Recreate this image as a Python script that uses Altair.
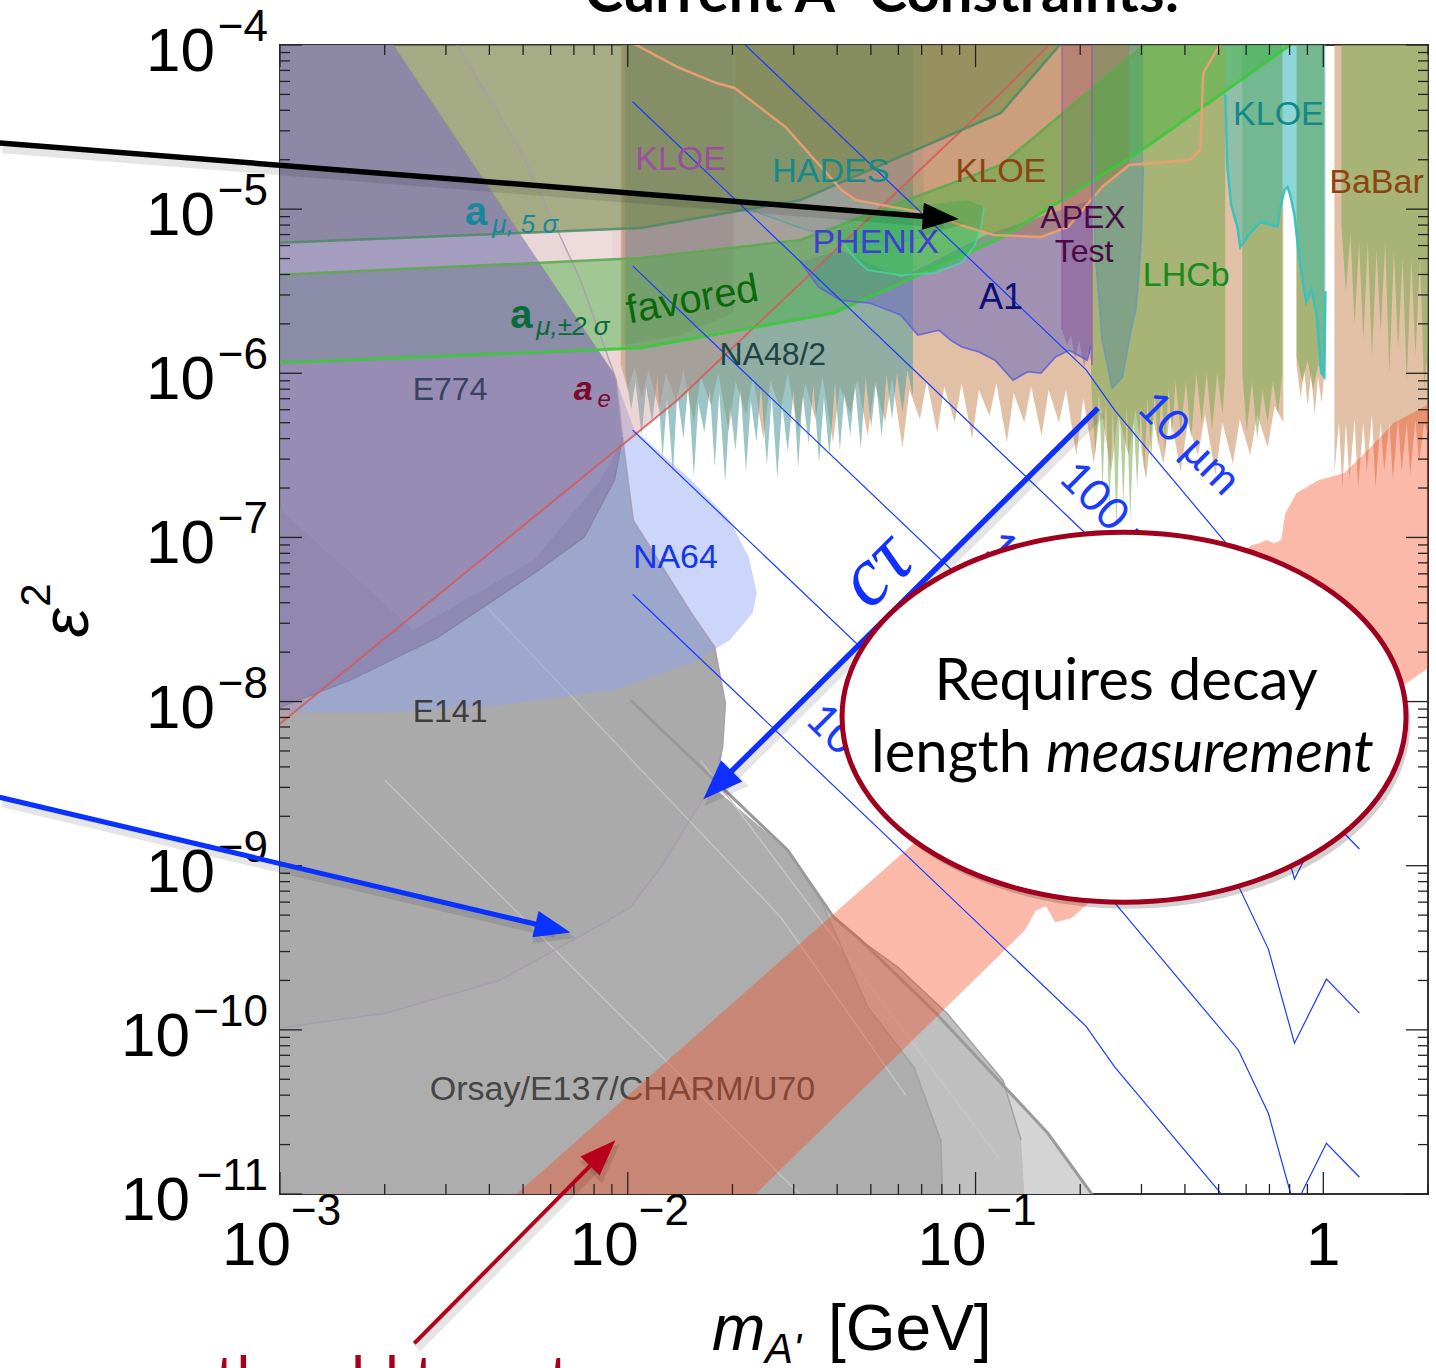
import altair as alt
import numpy as np
import pandas as pd

# ---------------------------------------------------------------- frame
W, H = 1148, 1149
M_RANGE = [1e-3, 2.0]          # m_A' [GeV]
EPS2_RANGE = [1e-11, 1e-4]     # epsilon^2

SANS = "Liberation Sans, Arial, Helvetica, sans-serif"
GILL = "Lato, Open Sans, sans-serif"
SERIF = "Liberation Serif, Times New Roman, serif"
INK = "#222222"

# ------------------------------------------- regions: (log10 m, log10 eps^2)
BEAMDUMP_TOP = [(-3.02, -6.791), (-2.617, -7.565), (-2.269, -7.138), (-2.079, -6.651),
                (-2.015, -6.407), (-1.984, -6.895), (-1.817, -7.461), (-1.750, -7.668),
                (-1.719, -8.010), (-1.727, -8.278), (-1.745, -8.540), (-1.540, -8.906)]
BEAMDUMP_OUTER = [(-1.408, -9.314), (-1.330, -9.454), (-1.114, -9.899), (-0.953, -10.264),
                  (-0.792, -10.630), (-0.665, -11.002), (-0.655, -11.06), (-3.02, -11.06)]
BEAMDUMP_MID = [(-1.408, -9.314), (-1.330, -9.454), (-1.223, -9.619), (-1.082, -9.899),
                (-0.921, -10.307), (-0.869, -10.673), (-0.858, -11.06), (-3.02, -11.06)]
BEAMDUMP_CORE = [(-1.445, -9.210), (-1.310, -9.862), (-1.177, -10.228), (-1.100, -10.673),
                 (-1.094, -11.06), (-3.02, -11.06)]
BEAMDUMP_EDGE = [(-1.992, -7.991), (-1.540, -8.906), (-1.408, -9.314), (-1.330, -9.454),
                 (-1.114, -9.899), (-0.953, -10.264), (-0.792, -10.630), (-0.665, -11.002),
                 (-0.660, -11.06)]
BEAMDUMP_FAINT = [[(-2.698, -8.479), (-1.497, -11.02)],
                  [(-2.424, -7.382), (-1.560, -9.314), (-1.200, -10.40)],
                  [(-1.791, -8.357), (-0.927, -10.795)]]

E141 = [(-2.496, -3.98), (-2.309, -4.640), (-2.136, -5.432), (-2.033, -6.041), (-2.015, -6.389),
        (-1.984, -6.895), (-1.817, -7.461), (-1.750, -7.668), (-1.719, -8.010), (-1.727, -8.278),
        (-1.750, -8.479), (-1.799, -8.644), (-1.897, -8.985), (-1.992, -9.253), (-2.070, -9.350),
        (-2.367, -9.698), (-2.698, -9.899), (-2.986, -9.984), (-3.02, -9.99)]

NA64 = [(-3.02, -3.98), (-2.68, -3.98), (-2.041, -5.999), (-1.981, -6.346), (-1.817, -6.651),
        (-1.707, -6.895), (-1.652, -7.120), (-1.629, -7.339), (-1.641, -7.461), (-1.707, -7.626),
        (-1.817, -7.766), (-2.038, -7.930), (-2.367, -8.022), (-2.698, -8.065), (-3.02, -8.065)]

E774 = [(-3.02, -3.98), (-2.68, -3.98), (-2.041, -5.999), (-2.033, -6.041), (-2.015, -6.389),
        (-2.038, -6.651), (-2.125, -6.998), (-2.269, -7.218), (-2.545, -7.608), (-2.798, -7.870),
        (-3.02, -8.052)]

A_E = [(-3.02, -8.17), (-1.857, -6.163), (-0.927, -4.293), (-0.78, -3.98)]
AMU_5SIGMA = [(-3.02, -5.207), (-1.963, -5.115), (-1.503, -4.945), (-0.927, -4.414), (-0.754, -3.99)]
AMU_2SIGMA_UP = [(-3.02, -5.402), (-1.963, -5.298), (-1.503, -5.188), (-0.927, -4.731), (-0.509, -3.99)]
AMU_2SIGMA_LO = [(-3.02, -5.938), (-1.963, -5.846), (-1.408, -5.633), (-0.927, -5.176),
                 (-0.521, -4.640), (-0.088, -3.99)]
BAND_GAP = [(-3.02, -5.207), (-2.044, -5.122), (-2.044, -5.306), (-3.02, -5.402)]

BABAR_A = [(-2.02, -3.98), (-2.02, -5.95), (-2.00, -6.10), (-1.98, -5.96), (-1.96, -6.15), (-1.94, -5.98),
           (-1.91, -6.22), (-1.89, -6.00), (-1.86, -6.18), (-1.84, -5.98), (-1.81, -6.30), (-1.79, -6.02),
           (-1.76, -6.20), (-1.74, -6.00), (-1.71, -6.35), (-1.69, -6.05), (-1.66, -6.25), (-1.64, -6.02),
           (-1.61, -6.40), (-1.59, -6.05), (-1.56, -6.22), (-1.54, -6.00), (-1.51, -6.35), (-1.49, -6.06),
           (-1.46, -6.28), (-1.44, -6.02), (-1.41, -6.42), (-1.39, -6.08), (-1.36, -6.25), (-1.34, -6.04),
           (-1.31, -6.38), (-1.29, -6.06), (-1.26, -6.30), (-1.24, -6.03), (-1.21, -6.45), (-1.19, -6.10),
           (-1.16, -6.28), (-1.14, -6.05), (-1.11, -6.36), (-1.09, -6.08), (-1.06, -6.30), (-1.04, -6.06),
           (-1.01, -6.40), (-0.99, -6.10), (-0.96, -6.26), (-0.94, -6.06), (-0.91, -6.42), (-0.89, -6.12),
           (-0.86, -6.30), (-0.84, -6.08), (-0.81, -6.38), (-0.79, -6.10), (-0.76, -6.30), (-0.74, -6.10),
           (-0.71, -6.50), (-0.69, -6.15), (-0.66, -6.55), (-0.64, -6.20), (-0.61, -6.60), (-0.59, -6.25),
           (-0.56, -6.50), (-0.54, -6.22), (-0.51, -6.65), (-0.49, -6.28), (-0.46, -6.55), (-0.44, -6.25),
           (-0.41, -6.60), (-0.39, -6.30), (-0.36, -6.50), (-0.34, -6.25), (-0.31, -6.62), (-0.29, -6.30),
           (-0.26, -6.55), (-0.24, -6.28), (-0.21, -6.50), (-0.19, -6.25), (-0.16, -6.45), (-0.14, -6.20),
           (-0.115, -6.30), (-0.115, -3.98)]
BABAR_B = [(-0.077, -3.98), (-0.077, -5.95), (-0.065, -6.15), (-0.055, -5.98), (-0.045, -6.20),
           (-0.035, -6.00), (-0.025, -6.25), (-0.015, -6.02), (-0.005, -6.18), (0.003, -6.0), (0.003, -3.98)]
BABAR_C = [(0.032, -3.98), (0.032, -6.6), (0.045, -6.3), (0.055, -6.7), (0.065, -6.3), (0.075, -6.65),
           (0.09, -6.28), (0.10, -6.7), (0.115, -6.3), (0.125, -6.6), (0.14, -6.25), (0.15, -6.7),
           (0.165, -6.3), (0.175, -6.6), (0.19, -6.3), (0.20, -6.65), (0.215, -6.28), (0.225, -6.6),
           (0.24, -6.3), (0.25, -6.62), (0.265, -6.28), (0.275, -6.55), (0.29, -6.3), (0.32, -6.5),
           (0.32, -3.98)]

NA48_2 = [(-2.007, -3.98), (-2.007, -6.0), (-1.99, -6.22), (-1.978, -6.05), (-1.96, -6.38), (-1.947, -6.08),
          (-1.93, -6.30), (-1.915, -6.02), (-1.90, -6.52), (-1.887, -6.15), (-1.87, -6.61), (-1.858, -6.12),
          (-1.84, -6.40), (-1.826, -6.06), (-1.81, -6.63), (-1.797, -6.18), (-1.78, -6.36), (-1.764, -6.10),
          (-1.75, -6.57), (-1.737, -6.12), (-1.72, -6.66), (-1.706, -6.20), (-1.69, -6.47), (-1.676, -6.09),
          (-1.66, -6.60), (-1.646, -6.17), (-1.63, -6.42), (-1.617, -6.08), (-1.60, -6.56), (-1.586, -6.14),
          (-1.57, -6.64), (-1.556, -6.19), (-1.54, -6.48), (-1.523, -6.10), (-1.51, -6.58), (-1.497, -6.13),
          (-1.48, -6.43), (-1.466, -6.07), (-1.45, -6.55), (-1.436, -6.15), (-1.42, -6.50), (-1.404, -6.06),
          (-1.39, -6.47), (-1.377, -6.12), (-1.36, -6.38), (-1.347, -6.06), (-1.33, -6.46), (-1.316, -6.03),
          (-1.30, -6.33), (-1.286, -6.05), (-1.27, -6.39), (-1.256, -6.01), (-1.24, -6.28), (-1.226, -6.00),
          (-1.21, -6.24), (-1.196, -5.98), (-1.18, -6.14), (-1.18, -3.98)]

LHCB_A = [(-0.668, -3.98), (-0.668, -6.05), (-0.655, -6.5), (-0.645, -6.1), (-0.635, -6.7), (-0.625, -6.15),
          (-0.615, -6.85), (-0.605, -6.2), (-0.595, -6.95), (-0.585, -6.25), (-0.575, -6.8), (-0.565, -6.2),
          (-0.555, -6.9), (-0.545, -6.3), (-0.535, -6.7), (-0.525, -6.2), (-0.515, -6.6), (-0.505, -6.15),
          (-0.495, -6.55), (-0.485, -6.1), (-0.475, -6.45), (-0.465, -6.1), (-0.455, -6.5), (-0.445, -6.08),
          (-0.435, -6.4), (-0.425, -6.05), (-0.41, -6.35), (-0.395, -6.05), (-0.38, -6.4), (-0.365, -6.0),
          (-0.35, -6.3), (-0.335, -6.0), (-0.32, -6.35), (-0.305, -6.0), (-0.29, -6.25), (-0.282, -6.0),
          (-0.282, -3.98)]
LHCB_B = [(-0.233, -3.98), (-0.233, -6.0), (-0.22, -6.35), (-0.205, -6.05), (-0.19, -6.4), (-0.175, -6.1),
          (-0.16, -6.3), (-0.145, -6.05), (-0.13, -6.25), (-0.118, -6.0), (-0.118, -3.98)]
LHCB_C = [(-0.077, -3.98), (-0.077, -5.9), (-0.06, -6.05), (-0.045, -5.92), (-0.03, -6.1),
          (-0.015, -5.95), (0.003, -6.0), (0.003, -3.98)]
LHCB_D = [(0.052, -3.98), (0.052, -5.1), (0.065, -5.5), (0.078, -5.15), (0.09, -5.7), (0.103, -5.2),
          (0.115, -5.8), (0.128, -5.2), (0.14, -5.9), (0.153, -5.25), (0.165, -5.75), (0.178, -5.2),
          (0.19, -6.0), (0.203, -5.25), (0.215, -5.85), (0.228, -5.3), (0.24, -6.05), (0.253, -5.3),
          (0.265, -5.9), (0.278, -5.3), (0.29, -6.1), (0.32, -5.4), (0.32, -3.98)]

TEAL_STRIP = [(-0.665, -3.98), (-0.665, -4.457), (-0.656, -5.249), (-0.636, -5.798), (-0.607, -6.090),
              (-0.578, -6.023), (-0.553, -5.737), (-0.538, -5.597), (-0.524, -5.188), (-0.518, -4.743),
              (-0.518, -3.98)]

KLOE_HI = [(-0.282, -3.98), (-0.282, -4.3), (-0.276, -4.743), (-0.265, -4.975), (-0.247, -5.109),
           (-0.239, -5.231), (-0.224, -5.188), (-0.210, -5.146), (-0.181, -5.079), (-0.149, -5.097),
           (-0.132, -5.109), (-0.123, -4.987), (-0.112, -4.884), (-0.103, -4.865), (-0.095, -4.914),
           (-0.083, -5.036), (-0.072, -5.249), (-0.063, -5.389), (-0.049, -5.566), (-0.034, -5.493),
           (-0.020, -5.633), (-0.011, -5.859), (-0.006, -5.999), (0.003, -6.023), (0.006, -5.5),
           (0.006, -3.98)]
KLOE_GAP = [(-0.118, -3.98), (-0.118, -4.94), (-0.112, -4.884), (-0.103, -4.865), (-0.095, -4.914),
            (-0.083, -5.036), (-0.077, -5.15), (-0.077, -3.98)]

A1 = [(-1.503, -5.322), (-1.451, -5.475), (-1.388, -5.554), (-1.304, -5.572), (-1.215, -5.645),
      (-1.166, -5.767), (-1.105, -5.737), (-1.070, -5.800), (-1.039, -5.840), (-0.990, -5.870),
      (-0.944, -5.920), (-0.892, -6.041), (-0.850, -5.990), (-0.812, -5.999), (-0.770, -5.900),
      (-0.731, -5.859), (-0.679, -5.920), (-0.668, -5.828), (-0.668, -4.945), (-0.970, -5.158),
      (-1.215, -5.420), (-1.388, -5.249)]

APEX = [(-0.751, -3.98), (-0.751, -5.737), (-0.737, -5.828), (-0.725, -5.767), (-0.714, -5.920),
        (-0.702, -5.798), (-0.688, -5.962), (-0.676, -5.859), (-0.665, -5.950), (-0.665, -3.98)]

KLOE_LO = [(-2.015, -3.98), (-2.015, -5.828), (-1.85, -5.77), (-1.696, -5.633), (-1.696, -3.98)]

HADES = [(-1.69, -3.98), (-1.69, -5.0), (-1.647, -5.005), (-1.511, -5.109), (-1.388, -5.188),
         (-1.272, -5.219), (-1.15, -5.17), (-1.15, -3.98)]

PHENIX = [(-1.388, -5.188), (-1.350, -5.292), (-1.310, -5.371), (-1.215, -5.402), (-1.120, -5.389),
          (-1.042, -5.328), (-1.005, -5.231), (-0.984, -5.109), (-0.976, -4.987), (-1.025, -4.945),
          (-1.146, -4.975), (-1.272, -5.005), (-1.388, -5.066)]

KLOE_MID_EDGE = [(-1.984, -3.99), (-1.857, -4.134), (-1.745, -4.232), (-1.693, -4.262), (-1.546, -4.500),
                 (-1.385, -4.884), (-1.344, -4.945), (-1.146, -5.024), (-1.025, -5.109), (-0.947, -5.158),
                 (-0.812, -5.170), (-0.734, -5.109), (-0.636, -4.865), (-0.558, -4.731), (-0.383, -4.701),
                 (-0.354, -4.640), (-0.345, -4.171), (-0.296, -3.99)]

DECAY_BAND = [(-2.352, -11.06), (-0.207, -7.047), (-0.184, -7.035), (-0.164, -7.016), (-0.141, -7.035),
              (-0.121, -7.016), (-0.109, -6.852), (-0.077, -6.730), (-0.014, -6.651), (0.061, -6.608),
              (0.136, -6.450), (0.202, -6.303), (0.32, -6.17), (0.32, -7.77), (-0.665, -9.210),
              (-0.725, -9.320), (-0.771, -9.344), (-0.797, -9.247), (-0.826, -9.271), (-0.858, -9.393),
              (-1.661, -11.06)]

# c*tau contours (shared mass nodes, one eps^2 list per decay length)
CTAU_LOGM = [-1.986, -0.682, -0.599, -0.244, -0.158, -0.083, 0.009, 0.104]
CTAU_10UM = [-3.346, -5.979, -6.228, -7.124, -7.508, -8.081, -7.691, -7.898]
CTAU_100UM = [-4.346, -6.979, -7.228, -8.124, -8.508, -9.081, -8.691, -8.898]
CTAU_1MM = [-5.346, -7.979, -8.228, -9.124, -9.508, -10.081, -9.691, -9.898]
CTAU_1CM = [-6.346, -8.979, -9.228, -10.124, -10.508, -11.081, -10.691, -10.898]
CTAU_10CM = [-7.346, -9.979, -10.228, -11.124, -11.508, -12.081, -11.691, -11.898]
CTAU_LABELS = ["10 μm", "100 μm", "1 mm", "1 cm", "10 cm"]
CTAU_LABEL_POS = [(-0.515, -6.163), (-0.740, -6.590), (-0.956, -7.016), (-1.215, -7.534), (-1.468, -8.065)]

# annotation arrows: tail, head centre
ARROW_BLACK = [(-3.806, -4.597), (-1.100, -5.052)]
ARROW_BLUE = [(-3.806, -8.583), (-2.215, -9.381)]
ARROW_RED = [(-2.614, -11.910), (-2.072, -10.751)]
ARROW_CTAU = [(-0.648, -6.212), (-1.742, -8.509)]
CALLOUT_CENTER = (-0.573, -8.095)

# experiment labels: text, log m, log eps^2, colour, size
EXPERIMENT_LABELS = [
    ("KLOE", -1.848, -4.701, "#9a4f9c", 34),
    ("HADES", -1.416, -4.774, "#168a8a", 34),
    ("KLOE", -0.927, -4.774, "#8a4510", 34),
    ("KLOE", -0.129, -4.427, "#128888", 34),
    ("BaBar", 0.153, -4.841, "#8a4510", 34),
    ("APEX", -0.691, -5.054, "#4a0a48", 32),
    ("Test", -0.688, -5.261, "#4a0a48", 32),
    ("PHENIX", -1.287, -5.207, "#3f3fd0", 34),
    ("LHCb", -0.394, -5.408, "#1a8a1a", 34),
    ("A1", -0.927, -5.542, "#10107a", 36),
    ("NA48/2", -1.583, -5.889, "#1d4444", 32),
    ("E774", -2.511, -6.102, "#39435f", 32),
    ("NA64", -1.863, -7.126, "#1438e8", 34),
    ("E141", -2.511, -8.065, "#3d3d3d", 32),
]

Y_EXPONENTS = [-4, -5, -6, -7, -8, -9, -10, -11]
X_EXPONENTS = [-3, -2, -1]

X_MAJOR = [1e-3, 1e-2, 1e-1, 1.0]
X_MINOR = [k * 10.0 ** d for d in range(-3, 1) for k in range(2, 10) if k * 10.0 ** d <= 2.0]
Y_MAJOR = [10.0 ** d for d in range(-11, -3)]
Y_MINOR = [k * 10.0 ** d for d in range(-11, -4) for k in range(2, 10)]

# ---------------------------------------------------------------- helpers
XS = alt.Scale(type="log", domain=M_RANGE)
YS = alt.Scale(type="log", domain=EPS2_RANGE)
X = alt.X("m:Q", scale=XS, axis=None)
Y = alt.Y("eps2:Q", scale=YS, axis=None)
ORDER = alt.Order("i:Q")


def table(points):
    lm = np.array([p[0] for p in points], dtype=float)
    le = np.array([p[1] for p in points], dtype=float)
    return pd.DataFrame({"m": 10.0 ** lm, "eps2": 10.0 ** le, "i": np.arange(len(lm))})


def patch(points, fill, alpha):
    return alt.Chart(table(points)).mark_line(
        fill=fill, fillOpacity=alpha, strokeWidth=0, strokeOpacity=0, clip=True
    ).encode(x=X, y=Y, order=ORDER)


def curve(points, color, width, alpha=1.0, clip=True, cap="butt"):
    return alt.Chart(table(points)).mark_line(
        stroke=color, strokeWidth=width, strokeOpacity=alpha, clip=clip, strokeCap=cap
    ).encode(x=X, y=Y, order=ORDER)


def label(text, lm, le, color, size, **kw):
    df = pd.DataFrame({"m": [10.0 ** lm], "eps2": [10.0 ** le], "t": [text]})
    opts = dict(font=SANS, fontSize=size, color=color)
    opts.update(kw)
    return alt.Chart(df).mark_text(**opts).encode(x=X, y=Y, text="t:N")


ARROW_HEAD = "M 1 0 L -1 -0.75 L -1 0.75 Z"
ELLIPSE = ("M -1 0 C -1 -0.362 -0.552 -0.656 0 -0.656 C 0.552 -0.656 1 -0.362 1 0 "
           "C 1 0.362 0.552 0.656 0 0.656 C -0.552 0.656 -1 0.362 -1 0 Z")


def head(pt, angle, color, size, alpha=1.0):
    return alt.Chart(table([pt])).mark_point(
        shape=ARROW_HEAD, size=size, filled=True, fill=color, color=color,
        opacity=alpha, angle=angle, strokeWidth=0, clip=False
    ).encode(x=X, y=Y)


def arrow(points, angle, color, width, size, shadow=True):
    out = []
    if shadow:
        # soft drop shadow, a few pixels below and right of the arrow
        shifted = [(lm + 0.008, le - 0.03) for lm, le in points]
        out.append(curve(shifted, "#000000", width + 5, 0.10, clip=False))
        out.append(head(shifted[1], angle, "#000000", size * 1.3, 0.10))
    out += [curve(points, color, width, clip=False), head(points[1], angle, color, size)]
    return out


layers = []

# ---------------------------------------------------------- beam dumps
layers.append(patch(BEAMDUMP_TOP + BEAMDUMP_OUTER, "#d4d4d4", 1.0))
layers.append(patch(BEAMDUMP_TOP + BEAMDUMP_MID, "#bfbfbf", 1.0))
layers.append(patch(BEAMDUMP_TOP + BEAMDUMP_CORE, "#adadad", 1.0))
for seg in BEAMDUMP_FAINT:
    layers.append(curve(seg, "#c6c6c6", 1.3))
layers.append(curve(BEAMDUMP_MID[1:6], "#a2a2a2", 1.5))
layers.append(curve([BEAMDUMP_TOP[-1]] + BEAMDUMP_CORE[:5], "#a2a2a2", 1.5))
layers.append(curve(BEAMDUMP_EDGE, "#9a9a9a", 3.0))
layers.append(patch(E141 + [(-3.02, -3.98)], "#909090", 0.07))
layers.append(patch(NA64, "#8ca5f5", 0.45))

# ---------------------------------------------------- meson / collider
for seg in (BABAR_A, BABAR_B, BABAR_C):
    layers.append(patch(seg, "#cd9669", 0.6))
layers.append(patch(NA48_2, "#5aa0a0", 0.6))
for seg in (LHCB_A, LHCB_B, LHCB_C, LHCB_D):
    layers.append(patch(seg, "#78aa50", 0.55))
layers.append(patch(TEAL_STRIP, "#3c82aa", 0.35))
layers.append(patch(KLOE_HI, "#40bcaa", 0.5))
layers.append(patch(KLOE_GAP, "#7fd2dc", 0.55))
layers.append(patch(A1, "#6b69c0", 0.55))
layers.append(patch(APEX, "#823c8c", 0.35))
layers.append(patch(KLOE_LO, "#643c6e", 0.2))
layers.append(patch(HADES, "#3c9696", 0.2))
layers.append(patch(PHENIX, "#28be78", 0.5))
layers.append(patch(KLOE_MID_EDGE[3:14] + [(-0.558, -3.98), (-1.693, -3.98)], "#aa6e3c", 0.4))

# ------------------------------------------------------- anomalies
layers.append(patch(A_E + [(-3.02, -3.98)], "#c88c8c", 0.37))
layers.append(patch(AMU_5SIGMA + [(-3.02, -3.98)], "#6e8c46", 0.55))
layers.append(patch(AMU_2SIGMA_UP + AMU_2SIGMA_LO[::-1], "#3cb43c", 0.42))
layers.append(patch(E774, "#8b82ad", 0.82))
layers.append(patch(BAND_GAP, "#ffffff", 0.15))

# ---------------------------------------------------------- outlines
layers.append(curve(E141, "#a898b0", 1.5, 0.8))
layers.append(curve(E774[4:], "#7d7a98", 1.3, 0.7))
layers.append(curve(A_E, "#d25a5a", 2.0, 0.85))
layers.append(curve(AMU_5SIGMA, "#4e8a66", 2.5, 0.85))
layers.append(curve(AMU_2SIGMA_UP, "#5ea84e", 2.5, 0.9))
layers.append(curve(AMU_2SIGMA_LO, "#3cc83c", 3.0, 0.9))
layers.append(curve(KLOE_MID_EDGE, "#eea070", 2.5, 0.9))
layers.append(curve(A1[:18], "#6464d2", 1.8, 0.9))
layers.append(curve(KLOE_HI[1:-1], "#38c0c0", 2.5, 0.95))
layers.append(curve(TEAL_STRIP[1:-1], "#6a9aaa", 2.0, 0.8))
layers.append(curve(PHENIX[:9], "#48d8a0", 2.0, 0.7))
layers.append(curve(HADES[1:-1], "#48a0a0", 1.5, 0.6))
layers.append(curve([APEX[0], APEX[1]], "#9a5aaa", 1.5, 0.8))
layers.append(curve([APEX[-1], APEX[-2]], "#9a5aaa", 1.5, 0.8))

layers.append(label("Orsay/E137/CHARM/U70", -2.015, -10.368, "#454545", 34))

# ------------------------------------------------ prompt/displaced band
layers.append(patch(DECAY_BAND, "#f4461e", 0.38))

# ------------------------------------------------------ c*tau contours
for series in (CTAU_10UM, CTAU_100UM, CTAU_1MM, CTAU_1CM, CTAU_10CM):
    layers.append(curve(list(zip(CTAU_LOGM, series)), "#1a3cff", 1.2))

# ------------------------------------------------------------ labels
for text, lm, le, color, size in EXPERIMENT_LABELS:
    layers.append(label(text, lm, le, color, size))
layers.append(label("a", -2.436, -5.024, "#17889a", 40, fontWeight="bold"))
layers.append(label("μ, 5 σ", -2.390, -5.097, "#17889a", 26, fontStyle="italic", align="left"))
layers.append(label("a", -2.306, -5.651, "#0a6a3a", 40, fontWeight="bold"))
layers.append(label("μ,±2 σ", -2.263, -5.718, "#0a6a3a", 26, fontStyle="italic", align="left"))
layers.append(label("favored", -1.814, -5.554, "#0a6a0a", 40, angle=350))
layers.append(label("a", -2.128, -6.102, "#7a0a2a", 34, fontStyle="italic", fontWeight="bold"))
layers.append(label("e", -2.087, -6.163, "#7a0a2a", 24, fontStyle="italic", align="left"))

# ------------------------------------------------- decay-length arrow
layers += arrow(ARROW_CTAU, 135, "#0f2fff", 5.5, 1600)
for text, (lm, le) in zip(CTAU_LABELS, CTAU_LABEL_POS):
    layers.append(label(text, lm, le, "#1a3cff", 44, font=GILL, angle=45,
                        align="left", baseline="middle"))
layers.append(label("cτ", -1.287, -7.199, "#1030ff", 84, font=SERIF,
                    fontStyle="italic", angle=315))

# ------------------------------------------------------------ callout
cx, cy = CALLOUT_CENTER
layers.append(alt.Chart(table([(cx + 0.012, cy - 0.04)])).mark_point(
    shape=ELLIPSE, size=318096, filled=True, fill="#000000", opacity=0.18, strokeWidth=0
).encode(x=X, y=Y))
layers.append(alt.Chart(table([CALLOUT_CENTER])).mark_point(
    shape=ELLIPSE, size=318096, filled=False, fill="#ffffff", fillOpacity=1,
    stroke="#a0001e", strokeWidth=5, opacity=1
).encode(x=X, y=Y))
layers.append(label("Requires decay", cx, cy, "#000000", 58, font=GILL, dx=2, dy=-17,
                    baseline="alphabetic"))
layers.append(label("length", cx, cy, "#000000", 58, font=GILL, dx=-93, dy=55,
                    align="right", baseline="alphabetic"))
layers.append(label("measurement", cx, cy, "#000000", 58, font=GILL, fontStyle="italic",
                    dx=-78, dy=55, align="left", baseline="alphabetic"))

# -------------------------------------------------------------- ticks
def xticks(vals, length):
    df = pd.DataFrame({"m": vals})
    base = alt.Chart(df).mark_rule(color=INK, strokeWidth=1.3)
    return [base.encode(x=X, y=alt.value(H), y2=alt.value(H - length)),
            base.encode(x=X, y=alt.value(0), y2=alt.value(length))]


def yticks(vals, length):
    df = pd.DataFrame({"eps2": vals})
    base = alt.Chart(df).mark_rule(color=INK, strokeWidth=1.3)
    return [base.encode(y=Y, x=alt.value(0), x2=alt.value(length)),
            base.encode(y=Y, x=alt.value(W), x2=alt.value(W - length))]


layers += xticks(X_MAJOR, 22) + xticks(X_MINOR, 10)
layers += yticks(Y_MAJOR, 22) + yticks(Y_MINOR, 10)

# --------------------------------------------------------- tick labels
ydf = pd.DataFrame({"eps2": [10.0 ** e for e in Y_EXPONENTS],
                    "base": ["10"] * len(Y_EXPONENTS),
                    "exp": ["−" + str(-e) for e in Y_EXPONENTS],
                    "wide": [abs(e) >= 10 for e in Y_EXPONENTS]})
layers.append(alt.Chart(ydf).mark_text(font=SANS, fontSize=44, align="right", baseline="alphabetic",
                                       dy=-4, color="#000").encode(y=Y, x=alt.value(-12), text="exp:N"))
layers.append(alt.Chart(ydf).transform_filter("!datum.wide").mark_text(
    font=SANS, fontSize=62, align="right", baseline="alphabetic", dy=26, color="#000"
).encode(y=Y, x=alt.value(-65), text="base:N"))
layers.append(alt.Chart(ydf).transform_filter("datum.wide").mark_text(
    font=SANS, fontSize=62, align="right", baseline="alphabetic", dy=26, color="#000"
).encode(y=Y, x=alt.value(-90), text="base:N"))

xdf = pd.DataFrame({"m": [10.0 ** e for e in X_EXPONENTS],
                    "base": ["10"] * len(X_EXPONENTS),
                    "exp": ["−" + str(-e) for e in X_EXPONENTS]})
layers.append(alt.Chart(xdf).mark_text(font=SANS, fontSize=62, align="right", baseline="alphabetic",
                                       dx=11, color="#000").encode(x=X, y=alt.value(H + 71), text="base:N"))
layers.append(alt.Chart(xdf).mark_text(font=SANS, fontSize=44, align="left", baseline="alphabetic",
                                       dx=11, color="#000").encode(x=X, y=alt.value(H + 31), text="exp:N"))
layers.append(alt.Chart(pd.DataFrame({"m": [1.0], "t": ["1"]})).mark_text(
    font=SANS, fontSize=62, align="center", baseline="alphabetic", color="#000"
).encode(x=X, y=alt.value(H + 71), text="t:N"))


def pixel_text(text, x, y, size, **kw):
    opts = dict(font=SANS, fontSize=size, color="#000000", baseline="alphabetic", align="left")
    opts.update(kw)
    return alt.Chart(pd.DataFrame({"t": [text]})).mark_text(**opts).encode(
        x=alt.value(x), y=alt.value(y), text="t:N")


# axis titles
layers.append(pixel_text("m", 432, H + 156, 64, fontStyle="italic"))
layers.append(pixel_text("A'", 485, H + 169, 42, fontStyle="italic"))
layers.append(pixel_text("[GeV]", 548, H + 156, 64))
layers.append(pixel_text("ε", -212, 578, 66, fontStyle="italic", align="center", baseline="middle",
                         angle=270))
layers.append(pixel_text("2", -243, 550, 42, align="center", baseline="middle", angle=270))

# --------------------------------------------------- pointing arrows
layers += arrow(ARROW_BLACK, 4.5, "#000000", 5.5, 1296)
layers += arrow(ARROW_BLUE, 13.3, "#0a32ff", 5.0, 1296)
layers += arrow(ARROW_RED, 314.7, "#b8001a", 4.0, 1296)

# slide title and caption (both run off the edge of the page)
layers.append(pixel_text("Current A′  Constraints:", 602, -33, 58, font=GILL, fontWeight="bold",
                         align="center"))
layers.append(pixel_text("the old target", -65, H + 205, 60, font=GILL, color="#a8001a"))

chart = alt.layer(*layers).properties(
    width=W, height=H,
    autosize=alt.AutoSizeParams(type="none"),
    padding={"left": 280, "top": 45, "right": 8, "bottom": 174},
).configure_view(stroke="#333333", strokeWidth=2)

chart.save("out.html", embed_options={"renderer": "svg", "actions": False})
